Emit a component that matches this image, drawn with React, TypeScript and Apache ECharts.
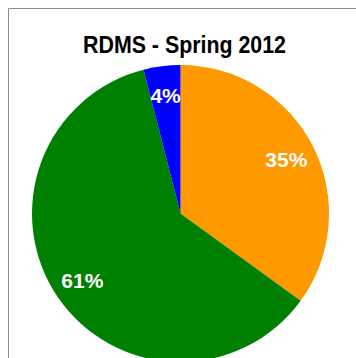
import React, { useEffect, useRef } from "react";
import * as echarts from "echarts";

const titleText = "RDMS - Spring 2012";
const categories = ["Orange", "Green", "Blue"];
const values = [35, 61, 4];
const colors = ["#FF9900", "#008000", "#0000FF"];

const FONT = "'Liberation Sans', Arial, sans-serif";

export default function App() {
  const ref = useRef<HTMLDivElement>(null);
  useEffect(() => {
    if (!ref.current) return;
    const chart = echarts.init(ref.current, undefined, { renderer: "svg" });
    const data = categories.map((name, i) => ({
      name,
      value: values[i],
      itemStyle: { color: colors[i] },
    }));
    chart.setOption({
      animation: false,
      backgroundColor: "#ffffff",
      graphic: [
        {
          type: "rect",
          shape: { x: 8.5, y: 8.5, width: 420, height: 420 },
          style: { fill: "none", stroke: "#8c8c8c", lineWidth: 1 },
          silent: true,
          z: -10,
        },
        {
          type: "text",
          x: 184.5,
          y: 44.8,
          scaleX: 0.89,
          silent: true,
          style: {
            text: titleText,
            x: 0,
            y: 0,
            align: "center",
            verticalAlign: "middle",
            fill: "#000",
            font: `bold 24px ${FONT}`,
          },
        },
      ],
      series: [
        {
          type: "pie",
          center: [180.5, 213.5],
          radius: [0, 148.5],
          startAngle: 90,
          clockwise: true,
          label: { show: false },
          labelLine: { show: false },
          emphasis: { disabled: true },
          data,
        },
        {
          type: "pie",
          center: [180.5, 213.5],
          radius: [83, 148.5],
          startAngle: 90,
          clockwise: true,
          silent: true,
          itemStyle: { color: "rgba(0,0,0,0)" },
          label: {
            show: true,
            position: "inside",
            formatter: "{c}%",
            color: "#ffffff",
            fontFamily: FONT,
            fontSize: 21,
            fontWeight: "bold",
          },
          labelLine: { show: false },
          emphasis: { disabled: true },
          data: categories.map((name, i) => ({ name, value: values[i] })),
        },
      ],
    });
    return () => chart.dispose();
  }, []);
  return (
    <div
      ref={ref}
      style={{ position: "fixed", left: 0, top: 0, width: 356, height: 358, overflow: "hidden" }}
    />
  );
}
